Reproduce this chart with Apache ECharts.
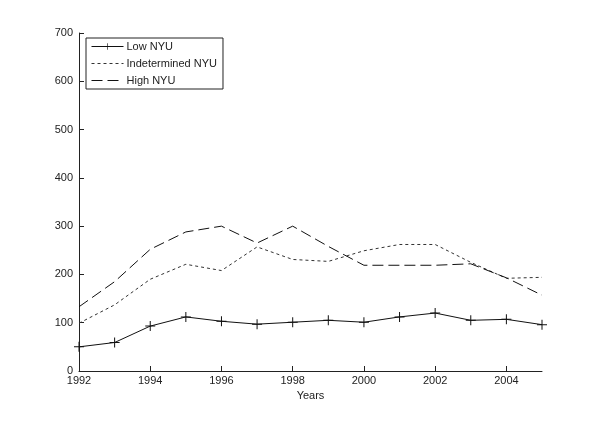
<!DOCTYPE html>
<html><head><meta charset="utf-8">
<script src="https://cdn.jsdelivr.net/npm/echarts@6/dist/echarts.min.js"></script>
<style>html,body{margin:0;padding:0;background:#fff}#c{width:600px;height:437px}</style>
</head><body><div id="c"></div>
<script>
const years = [1992,1993,1994,1995,1996,1997,1998,1999,2000,2001,2002,2003,2004,2005];
const lowNYU = [50,59,93,112,103,97,101,105,101,112,120,105,107,96];
const indeterminedNYU = [99,137,190,221,208,257,231,227,249,262,262,225,192,194];
const highNYU = [133,185,252,288,300,265,300,258,219,219,219,222,193,157];
const seriesNames = ['Low NYU','Indetermined NYU','High NYU'];
const yTicks = [0,100,200,300,400,500,600,700];

const pair = arr => years.map((y,i)=>[y,arr[i]]);
const font = 'Liberation Sans, Arial, sans-serif';
const plus = 'path://M4.5,0 L5.5,0 L5.5,4.5 L10,4.5 L10,5.5 L5.5,5.5 L5.5,10 L4.5,10 L4.5,5.5 L0,5.5 L0,4.5 L4.5,4.5 Z';

const chart = echarts.init(document.getElementById('c'), null, {renderer:'canvas'});
chart.setOption({
  animation:false,
  backgroundColor:'#fff',
  grid:{left:79,right:58,top:33,bottom:66},
  legend:{
    show:true, orient:'vertical', left:86, top:38,
    itemWidth:32, itemHeight:8, itemGap:6,
    backgroundColor:'#fff', borderColor:'#222', borderWidth:1,
    padding:[3,6,3,5],
    lineStyle:{width:1},
    textStyle:{fontFamily:font,fontSize:11,color:'#222',padding:[0,0,0,-2]},
    data:[
      {name:seriesNames[0]},
      {name:seriesNames[1],itemStyle:{opacity:0}},
      {name:seriesNames[2],itemStyle:{opacity:0}}
    ]
  },
  xAxis:{
    type:'value', min:1992, max:2005, interval:2,
    name:'Years', nameLocation:'middle', nameGap:17,
    nameTextStyle:{fontFamily:font,fontSize:11,color:'#222'},
    axisLine:{lineStyle:{color:'#222',width:1}},
    axisTick:{inside:true,length:5,lineStyle:{color:'#222'}},
    axisLabel:{fontFamily:font,fontSize:11,color:'#222',margin:4,showMaxLabel:false,formatter:v=>String(v)},
    splitLine:{show:false}
  },
  yAxis:{
    type:'value', min:yTicks[0], max:yTicks[yTicks.length-1], interval:100,
    axisLine:{show:true,lineStyle:{color:'#222',width:1}},
    axisTick:{show:true,inside:true,length:5,lineStyle:{color:'#222'}},
    axisLabel:{fontFamily:font,fontSize:11,color:'#222',margin:6},
    splitLine:{show:false}
  },
  series:[
    {name:seriesNames[0],type:'line',data:pair(lowNYU),symbol:plus,symbolSize:10,showSymbol:true,
     itemStyle:{color:'#111'},lineStyle:{color:'#111',width:1}},
    {name:seriesNames[1],type:'line',data:pair(indeterminedNYU),symbol:'none',
     itemStyle:{color:'#333'},lineStyle:{color:'#333',width:1,type:[3,3]}},
    {name:seriesNames[2],type:'line',data:pair(highNYU),symbol:'none',
     itemStyle:{color:'#111'},lineStyle:{color:'#111',width:1,type:[11,5]}}
  ]
});
</script></body></html>
